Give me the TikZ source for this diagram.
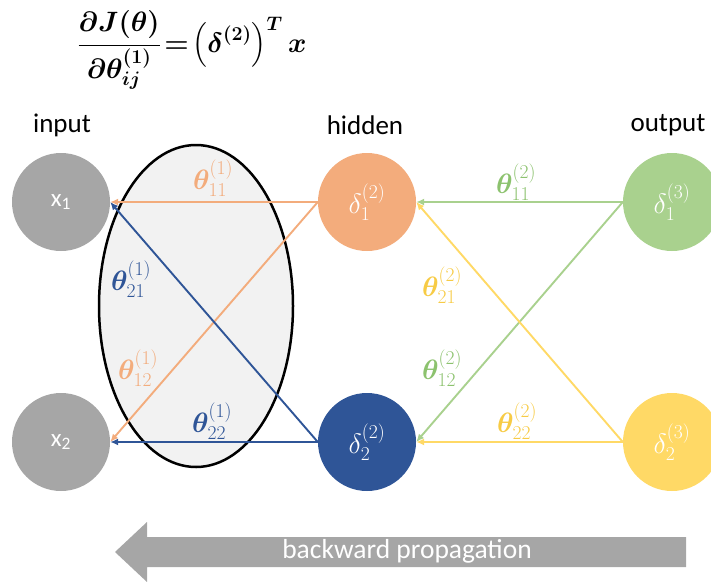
\RequirePackage{fix-cm}
\documentclass[tikz,border=0pt]{standalone}
\usepackage{amsmath,bm}
\usepackage{fontspec}
\setsansfont{Carlito}
\usetikzlibrary{positioning,arrows.meta,backgrounds}

\definecolor{nodegray}{HTML}{A6A6A6}
\definecolor{hidorange}{HTML}{F3AC7C}
\definecolor{hidblue}{HTML}{2F5597}
\definecolor{outgreen}{HTML}{A9D18E}
\definecolor{outyellow}{HTML}{FFD966}
\definecolor{labgreen}{HTML}{8CC26E}
\definecolor{labyellow}{HTML}{F7CB45}
\definecolor{ellfill}{HTML}{F2F2F2}
\definecolor{arrowgray}{HTML}{A6A6A6}

\begin{document}
\begin{tikzpicture}[x=1pt, y=-1pt,
  neuron/.style={circle, minimum size=98pt, inner sep=0pt, text=white, font=\fontsize{28}{32}\selectfont},
  layername/.style={font=\fontsize{27}{32}\selectfont\sffamily},
  weight/.style={font=\fontsize{28}{32}\selectfont},
  edge/.style={line width=1.9pt, -{Latex[length=8pt,width=7pt]}}]

\useasboundingbox (0,0) rectangle (711,581);

\node[font=\fontsize{28}{34}\selectfont\boldmath] (eq) at (192,50)
  {$\displaystyle\frac{\partial J(\theta)}{\partial\theta^{(1)}_{ij}}\!=\!\left(\delta^{(2)}\right)^{T}x$};

\node[layername] (lin)  at (62,125)  {input};
\node[layername] (lhid) at (365,125) {hidden};
\node[layername] (lout) at (668,125) {output};

\draw[fill=ellfill, line width=2.5pt] (196,306) ellipse [x radius=97, y radius=161];

\node[neuron, fill=nodegray, font=\fontsize{25}{30}\selectfont\sffamily] (x1) at (61,202) {x\textsubscript{1}};
\node[neuron, fill=nodegray, font=\fontsize{25}{30}\selectfont\sffamily] (x2) at (61,442) {x\textsubscript{2}};
\node[neuron, fill=hidorange] (h1) at (367,202) {$\delta^{(2)}_1$};
\node[neuron, fill=hidblue]   (h2) at (367,442) {$\delta^{(2)}_2$};
\node[neuron, fill=outgreen]  (o1) at (672,202) {$\delta^{(3)}_1$};
\node[neuron, fill=outyellow] (o2) at (672,442) {$\delta^{(3)}_2$};

\draw[edge, hidorange] (h1.west) -- (x1.east);
\draw[edge, hidorange] (h1.west) -- (x2.east);
\draw[edge, hidblue]   (h2.west) -- (x1.east);
\draw[edge, hidblue]   (h2.west) -- (x2.east);
\draw[edge, outgreen]  (o1.west) -- (h1.east);
\draw[edge, outgreen]  (o1.west) -- (h2.east);
\draw[edge, outyellow] (o2.west) -- (h1.east);
\draw[edge, outyellow] (o2.west) -- (h2.east);

\node[weight, text=hidorange] (w111) at (213,178) {$\bm\theta^{(1)}_{11}$};
\node[weight, text=hidblue]   (w121) at (131,279) {$\bm\theta^{(1)}_{21}$};
\node[weight, text=hidorange] (w112) at (138,368) {$\bm\theta^{(1)}_{12}$};
\node[weight, text=hidblue]   (w122) at (212,421) {$\bm\theta^{(1)}_{22}$};
\node[weight, text=labgreen]  (w211) at (516,182) {$\bm\theta^{(2)}_{11}$};
\node[weight, text=labyellow] (w221) at (442,285) {$\bm\theta^{(2)}_{21}$};
\node[weight, text=labgreen]  (w212) at (442,368) {$\bm\theta^{(2)}_{12}$};
\node[weight, text=labyellow] (w222) at (517,421) {$\bm\theta^{(2)}_{22}$};

% backward arrow
\fill[arrowgray] (686,537) -- (147,537) -- (147,522) -- (115,552) -- (147,582) -- (147,567) -- (686,567) -- cycle;
\node[font=\fontsize{27.5}{32}\selectfont\sffamily, text=white] (bp) at (407,551) {backward propagation};

\end{tikzpicture}
\end{document}
